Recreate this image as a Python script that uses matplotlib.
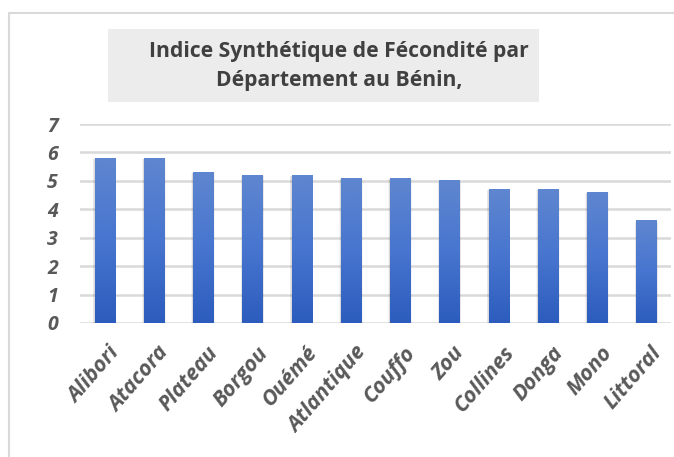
import numpy as np
import matplotlib.pyplot as plt
import matplotlib.transforms as mtransforms
from matplotlib.patches import Rectangle
from matplotlib.colors import LinearSegmentedColormap

# Data
departements = ["Alibori", "Atacora", "Plateau", "Borgou", "Ouémé", "Atlantique",
                "Couffo", "Zou", "Collines", "Donga", "Mono", "Littoral"]
isf = [5.8, 5.8, 5.3, 5.2, 5.2, 5.1, 5.1, 5.0, 4.7, 4.7, 4.6, 3.6]
yticks = [0, 1, 2, 3, 4, 5, 6, 7]

title = "Indice Synthétique de Fécondité par\nDépartement au Bénin,"
text_col = "#595959"
grid_col = "#d9d9d9"

fig = plt.figure(figsize=(6.74, 4.57), dpi=100)

# outer chart frame
fig.patches.append(Rectangle((9 / 674, -0.05), 1.0, (457 - 13) / 457 + 0.05,
                             transform=fig.transFigure, fill=False,
                             edgecolor=grid_col, linewidth=1.5))

ax = fig.add_axes([80 / 674, 134 / 457, 591 / 674, 199 / 457])

# gridlines
for t in yticks:
    ax.axhline(t, color=grid_col, linewidth=1.8, zorder=0)

# gradient bars with a soft shadow
cmap = LinearSegmentedColormap.from_list("bar", ["#2c5cbd", "#4775cf", "#5f86cf"])
grad = np.linspace(0, 1, 256).reshape(-1, 1)
w = 0.41
for i, v in enumerate(isf):
    for k, a in enumerate([0.06, 0.05, 0.04]):
        d = 0.03 * (k + 1)
        ax.add_patch(Rectangle((i - w / 2 - d * 0.4, -0.05), w + d * 0.8, v + 0.02,
                               facecolor="black", alpha=a, linewidth=0, zorder=1))
    ax.imshow(grad, cmap=cmap, aspect="auto", origin="lower",
              extent=(i - w / 2, i + w / 2, 0, v), zorder=2, interpolation="bilinear")

ax.set_xlim(-0.5, len(departements) - 0.5)
ax.set_ylim(0, 7)

for s in ax.spines.values():
    s.set_visible(False)

ax.set_yticks(yticks)
ax.set_yticklabels([str(t) for t in yticks], fontsize=14, fontweight="bold",
                   fontstyle="italic", color=text_col, family="Open Sans")
ax.set_xticks(range(len(departements)))
ax.set_xticklabels(departements, rotation=49, ha="right", rotation_mode="anchor",
                   fontsize=15.5, fontweight="bold", fontstyle="italic",
                   color=text_col, family="Open Sans")
ax.tick_params(axis="both", length=0)
ax.tick_params(axis="y", pad=16)
ax.tick_params(axis="x", pad=14)
shift = mtransforms.ScaledTranslation(4 / 100, 0, fig.dpi_scale_trans)
for lab in ax.get_xticklabels():
    lab.set_transform(lab.get_transform() + shift)

# title in grey box
fig.patches.append(Rectangle((108 / 674, 1 - 102 / 457), 431 / 674, 73 / 457,
                             transform=fig.transFigure, facecolor="#ececec",
                             edgecolor="none"))
fig.text(339 / 674, 1 - 66 / 457, title, ha="center", va="center",
         fontsize=15.2, fontweight="bold", color="#404040", family="Open Sans",
         linespacing=1.5)

fig.savefig("out.png", dpi=100)
